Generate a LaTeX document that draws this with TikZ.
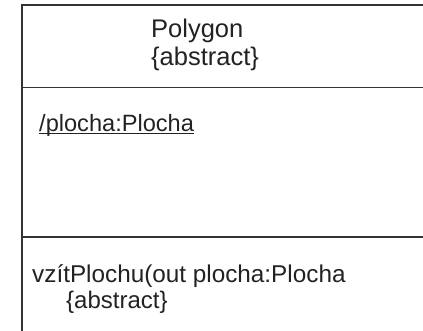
\documentclass[tikz,border=0pt]{standalone}
\usepackage{fontspec}
\setmainfont{Liberation Sans}
\usepackage{tikz}
\usetikzlibrary{positioning}

\definecolor{umlline}{HTML}{333333}
\definecolor{umltext}{HTML}{222222}

\tikzset{
    umltxt/.style={inner sep=0pt, anchor=base west, text=umltext, font=\fontsize{24}{28}\selectfont},
    umltitle/.style={umltxt, font=\fontsize{25.5}{28}\selectfont},
    umledge/.style={draw=umlline, line width=1.2pt}
}

\begin{document}
\begin{tikzpicture}[x=1pt, y=-1pt]
    \useasboundingbox (0,0) rectangle (423,331);
    % class frame (cut off at right and bottom)
    \draw[umledge] (423,5) -- (22,5) -- (22,331);
    \draw[umledge] (22,87.5) -- (423,87.5);
    \draw[umledge] (22,237) -- (423,237);
    % name compartment
    \node[umltitle] (name) at (151,38) {Polygon};
    \node[umltitle] (nameabs) at ([yshift=-28pt]name.base west) {\{abstract\}};
    % attributes
    \node[umltxt, font=\fontsize{23.6}{28}\selectfont] (attr) at (39,132) {/plocha:Plocha};
    \draw[umltext, line width=1pt] ([yshift=-2pt]attr.base west) -- ([yshift=-2pt]attr.base east);
    % operations
    \node[umltxt, font=\fontsize{24.3}{28}\selectfont] (oper) at (32,282.5) {vzítPlochu(out plocha:Plocha};
    \node[umltxt] (operabs) at ([xshift=34pt, yshift=-26pt]oper.base west) {\{abstract\}};
\end{tikzpicture}
\end{document}
